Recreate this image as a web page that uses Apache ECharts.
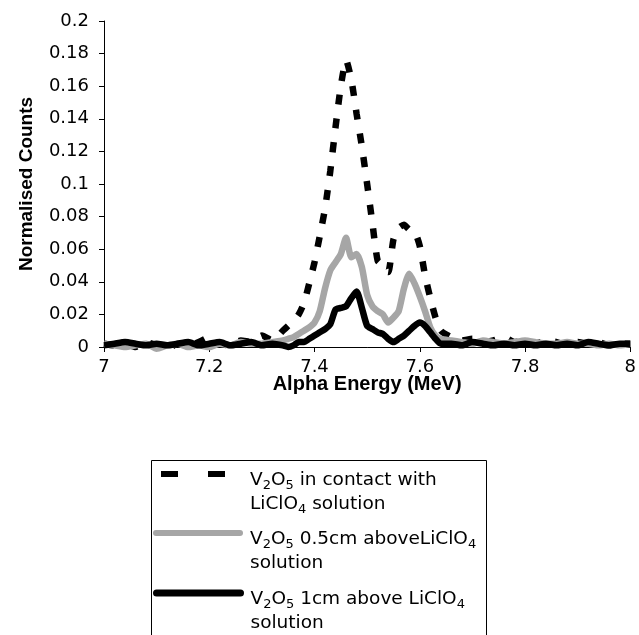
<!DOCTYPE html>
<html>
<head>
	<meta charset="utf-8">
	<title>Alpha spectra</title>
	<style>
		html, body { margin: 0; padding: 0; background: #fff; }
		#main { width: 639px; height: 635px; }
	</style>
</head>
<body>
<div id="main"></div>
<script type="text/javascript" src="https://cdn.jsdelivr.net/npm/echarts@6/dist/echarts.min.js"></script>
<script type="text/javascript">
// alpha energy (MeV), coarse on the baseline, fine across the peaks
var energy = [7.00, 7.02, 7.04, 7.06, 7.08, 7.10, 7.12, 7.14, 7.16, 7.18, 7.20, 7.22, 7.24, 7.26, 7.28, 7.30, 7.32,
	7.34, 7.35, 7.36, 7.37, 7.38, 7.39, 7.40, 7.41, 7.42, 7.43, 7.44, 7.45, 7.46, 7.47, 7.48, 7.49, 7.50,
	7.51, 7.52, 7.53, 7.54, 7.55, 7.56, 7.57, 7.58, 7.59, 7.60, 7.61, 7.62, 7.63, 7.64,
	7.66, 7.68, 7.70, 7.72, 7.74, 7.76, 7.78, 7.80, 7.82, 7.84, 7.86, 7.88, 7.90, 7.92, 7.94, 7.96, 7.98, 8.00];

// V2O5 in contact with LiClO4 solution
var inContact = [0.002, 0.001, 0.002, 0.000, 0.003, 0.001, -0.001, 0.002, 0.001, 0.003, 0.006, 0.002, 0.001, 0.004, 0.003, 0.007, 0.004,
	0.010, 0.013, 0.016, 0.020, 0.027, 0.039, 0.052, 0.068, 0.085, 0.108, 0.135, 0.160, 0.176, 0.164, 0.143, 0.123, 0.100,
	0.076, 0.053, 0.050, 0.046, 0.066, 0.073, 0.075, 0.072, 0.071, 0.062, 0.044, 0.030, 0.018, 0.010,
	0.006, 0.004, 0.005, 0.003, 0.004, 0.006, 0.003, 0.004, 0.002, 0.004, 0.003, 0.001, 0.003, 0.002, 0.003, 0.001, 0.002, 0.002];

// V2O5 0.5cm above LiClO4 solution
var above05 = [0.002, 0.001, 0.000, 0.001, 0.002, -0.001, 0.001, 0.002, 0.000, 0.001, 0.000, 0.002, 0.001, 0.003, 0.002, 0.002, 0.003,
	0.004, 0.005, 0.006, 0.008, 0.010, 0.012, 0.015, 0.022, 0.036, 0.047, 0.052, 0.057, 0.067, 0.055, 0.057, 0.049, 0.032,
	0.025, 0.022, 0.020, 0.015, 0.018, 0.022, 0.036, 0.045, 0.039, 0.031, 0.022, 0.012, 0.007, 0.005,
	0.004, 0.003, 0.002, 0.004, 0.003, 0.002, 0.003, 0.004, 0.003, 0.002, 0.002, 0.003, 0.002, 0.002, 0.001, 0.002, 0.001, 0.002];

// V2O5 1cm above LiClO4 solution
var above1 = [0.001, 0.002, 0.003, 0.002, 0.001, 0.002, 0.001, 0.002, 0.003, 0.001, 0.002, 0.003, 0.001, 0.002, 0.003, 0.001, 0.002,
	0.001, 0.000, 0.001, 0.003, 0.003, 0.005, 0.007, 0.009, 0.011, 0.014, 0.023, 0.024, 0.025, 0.030, 0.034, 0.024, 0.013,
	0.011, 0.009, 0.008, 0.005, 0.003, 0.005, 0.007, 0.010, 0.013, 0.015, 0.013, 0.009, 0.005, 0.002,
	0.002, 0.001, 0.003, 0.002, 0.001, 0.002, 0.001, 0.002, 0.001, 0.002, 0.001, 0.002, 0.001, 0.003, 0.002, 0.001, 0.002, 0.002];

var names = ['contact', 'half', 'one'];
var legendTexts = [
	'V{sub|2}O{sub|5} in contact with\nLiClO{sub|4} solution',
	'V{sub|2}O{sub|5} 0.5cm aboveLiClO{sub|4}\nsolution',
	'V{sub|2}O{sub|5} 1cm above LiClO{sub|4}\nsolution'
];

function pairs(vals) {
	return energy.map(function (e, i) { return [e, vals[i]]; });
}

var font = 'Liberation Sans, Arial, sans-serif';
var wideFont = 'DejaVu Sans, sans-serif';
var legendRich = {
	sub: { fontSize: 13, fontFamily: wideFont, color: '#000', verticalAlign: 'bottom', lineHeight: 16 }
};

function makeLegend(idx, top, extra) {
	var item = { name: names[idx] };
	if (extra) {
		for (var k in extra) item[k] = extra[k];
	}
	return {
		orient: 'vertical',
		left: 153,
		top: top,
		padding: 0,
		itemWidth: 84,
		itemHeight: 14,
		itemStyle: { opacity: 0 },   // line only, no marker in the middle
		data: [item],
		formatter: function () { return legendTexts[idx]; },
		textStyle: {
			fontFamily: wideFont,
			fontSize: 18.5,
			color: '#000',
			lineHeight: 24,
			padding: [36, 0, 0, 5],
			rich: legendRich
		}
	};
}

var myChart = echarts.init(document.getElementById('main'), null, { renderer: 'canvas' });

var option = {
	backgroundColor: '#fff',
	animation: false,
	textStyle: { fontFamily: font },
	grid: { left: 104, right: 3, top: 21, bottom: 288 },
	xAxis: {
		type: 'value',
		min: 7,
		max: 8,
		interval: 0.2,
		name: 'Alpha Energy (MeV)',
		nameLocation: 'middle',
		nameGap: 27,
		nameMoveOverlap: false,
		nameTextStyle: { fontFamily: font, fontSize: 20, fontWeight: 'bold', color: '#000' },
		axisLine: { lineStyle: { color: '#000', width: 1 } },
		axisTick: { show: true, inside: false, length: 5, lineStyle: { color: '#000' } },
		axisLabel: { fontFamily: wideFont, fontSize: 18, color: '#000', margin: 11 },
		splitLine: { show: false }
	},
	yAxis: {
		type: 'value',
		min: 0,
		max: 0.2,
		interval: 0.02,
		name: 'Normalised Counts',
		nameLocation: 'middle',
		nameGap: 68,
		nameMoveOverlap: false,
		nameRotate: 90,
		nameTextStyle: { fontFamily: font, fontSize: 19, fontWeight: 'bold', color: '#000' },
		axisLine: { show: true, lineStyle: { color: '#000', width: 1 } },
		axisTick: { show: true, inside: false, length: 5, lineStyle: { color: '#000' } },
		axisLabel: { fontFamily: wideFont, fontSize: 18, color: '#000', margin: 15 },
		splitLine: { show: false }
	},
	graphic: [{
		type: 'rect',
		shape: { x: 151.5, y: 460.5, width: 335, height: 200 },
		style: { fill: null, stroke: '#000', lineWidth: 1 },
		z: 0
	}],
	legend: [
		makeLegend(0, 432, { lineStyle: { type: [17, 30], dashOffset: 42, width: 6, cap: 'butt', color: '#000' } }),
		makeLegend(1, 491, { lineStyle: { width: 6, color: '#a6a6a6', cap: 'round' } }),
		makeLegend(2, 551, { lineStyle: { width: 7, color: '#000', cap: 'round' } })
	],
	series: [
		{
			name: names[0],
			type: 'line',
			data: pairs(inContact),
			symbol: 'none',
			smooth: 0.2,
			clip: false,
			lineStyle: { color: '#000', width: 6.5, type: [10, 14], cap: 'butt' },
			itemStyle: { color: '#000' }
		},
		{
			name: names[1],
			type: 'line',
			data: pairs(above05),
			symbol: 'none',
			smooth: 0.2,
			clip: false,
			lineStyle: { color: '#a6a6a6', width: 6.5 },
			itemStyle: { color: '#a6a6a6' }
		},
		{
			name: names[2],
			type: 'line',
			data: pairs(above1),
			symbol: 'none',
			smooth: 0.2,
			clip: false,
			lineStyle: { color: '#000', width: 6.5 },
			itemStyle: { color: '#000' }
		}
	]
};

myChart.setOption(option);
</script>
</body>
</html>
